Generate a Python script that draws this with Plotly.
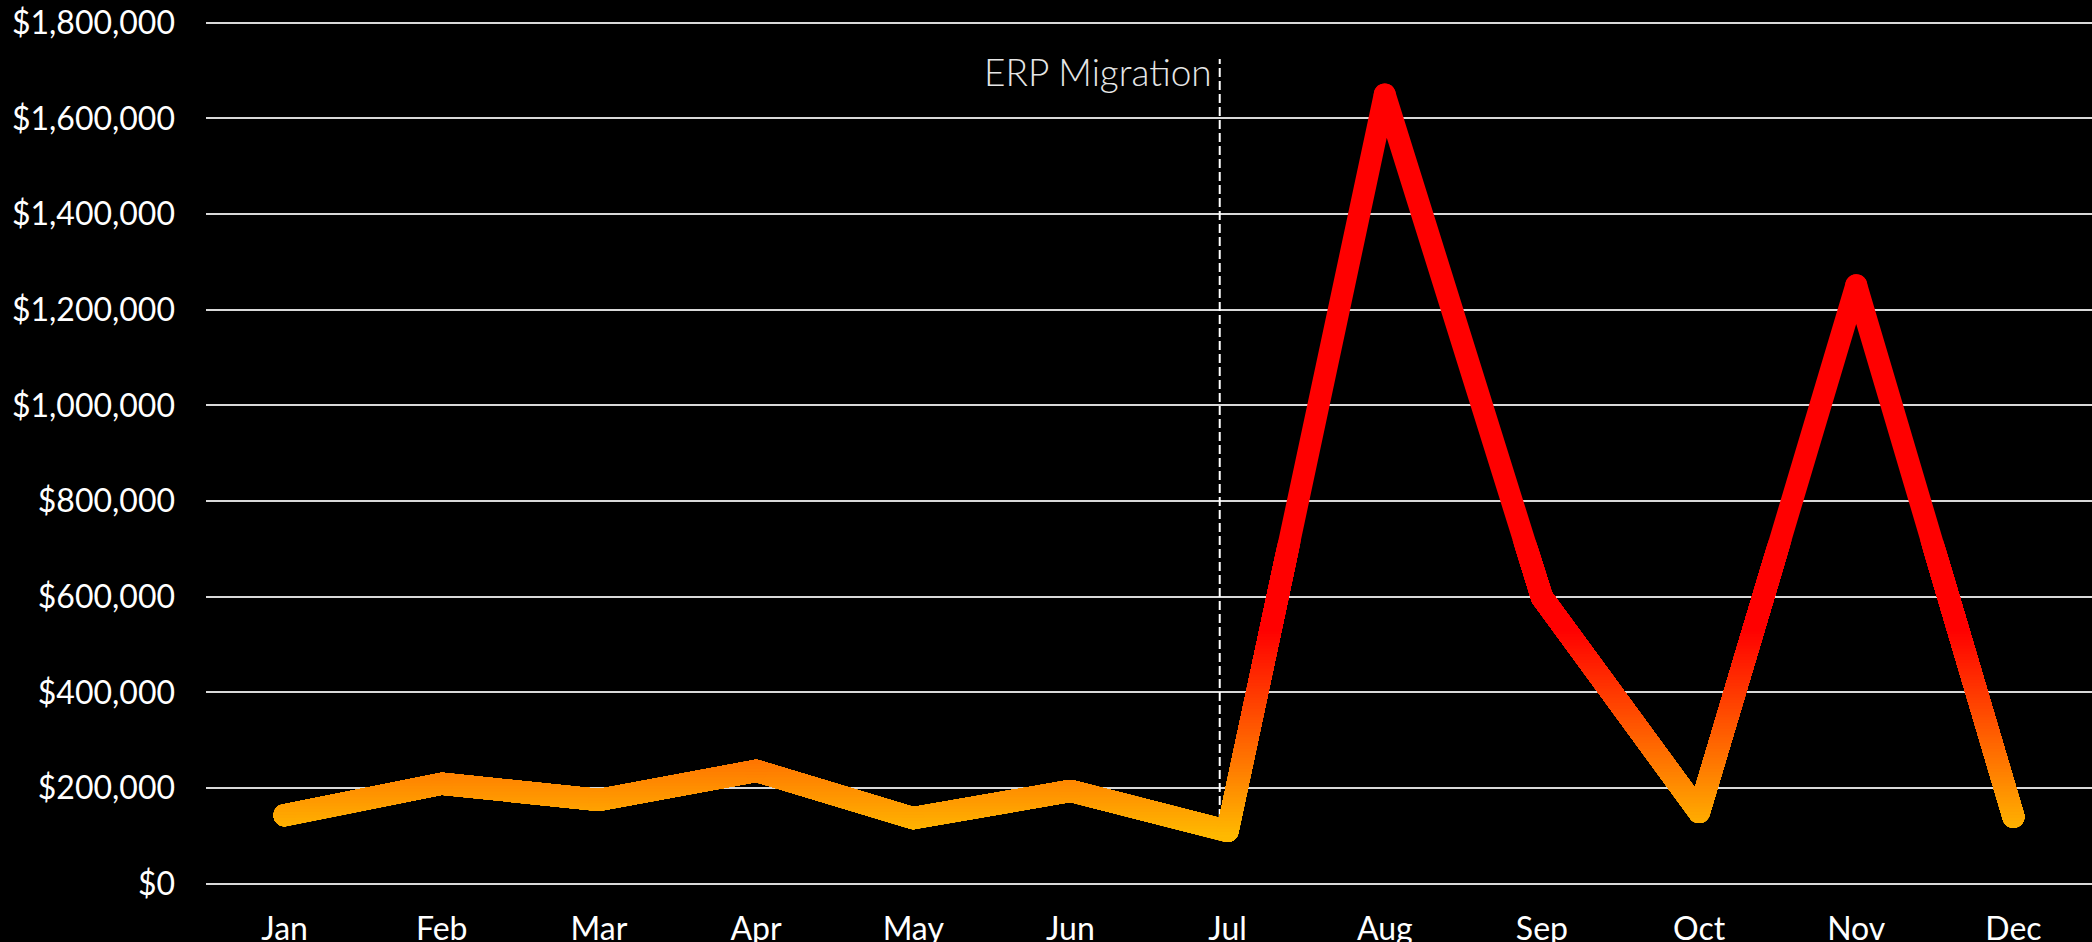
import plotly.graph_objects as go

months = ["Jan", "Feb", "Mar", "Apr", "May", "Jun", "Jul", "Aug", "Sep", "Oct", "Nov", "Dec"]
values = [143000, 209000, 175000, 236000, 137000, 194000, 110000, 1650000, 599000, 150000, 1251000, 140000]

event_label = "ERP Migration"
event_x = 5.95          # just left of Jul (category index)
event_top = 1724000
event_label_y = 1697000

Y_LO, Y_HI = -6900, 1805650
LINE_W = 22

# vertical gradient: amber at low values to pure red above ~530k
LOW_V, HIGH_V = 100000, 530000
LOW_RGB, HIGH_RGB = (255, 185, 0), (255, 0, 0)


def grad_color(v):
    t = (v - LOW_V) / (HIGH_V - LOW_V)
    t = max(0.0, min(1.0, t))
    r = round(LOW_RGB[0] + (HIGH_RGB[0] - LOW_RGB[0]) * t)
    g = round(LOW_RGB[1] + (HIGH_RGB[1] - LOW_RGB[1]) * t)
    b = round(LOW_RGB[2] + (HIGH_RGB[2] - LOW_RGB[2]) * t)
    return f"rgb({r},{g},{b})"


def dom(v):
    return (v - Y_LO) / (Y_HI - Y_LO)


fig = go.Figure()

# base trace (red) on the main axes
fig.add_trace(go.Scatter(
    x=months, y=values, mode="lines+markers",
    line=dict(color="rgb(255,0,0)", width=LINE_W, simplify=False),
    marker=dict(size=LINE_W, color="rgb(255,0,0)", line=dict(width=0)),
    hoverinfo="skip", showlegend=False, xaxis="x", yaxis="y",
))

# stacked tall strips; each later strip covers the upper part of the previous,
# so every strip is only visible in a thin band -> vertical colour gradient
STEP = 6000
H = 160000
layout_axes = {}
k = 2
a = 60000
while a < 560000:
    b = a + H
    col = grad_color(a + STEP / 2)
    name = f"y{k}"
    fig.add_trace(go.Scatter(
        x=months, y=values, mode="lines+markers",
        line=dict(color=col, width=LINE_W, simplify=False),
        marker=dict(size=LINE_W, color=col, line=dict(width=0)),
        hoverinfo="skip", showlegend=False, xaxis="x", yaxis=name,
    ))
    layout_axes[f"yaxis{k}"] = dict(
        domain=[dom(a), dom(b)], range=[a, b], anchor="x",
        visible=False, showgrid=False, zeroline=False, fixedrange=True,
    )
    a += STEP
    k += 1

fig.update_layout(**layout_axes)

fig.update_layout(
    width=2092, height=942,
    paper_bgcolor="black", plot_bgcolor="rgba(0,0,0,0)",
    margin=dict(l=206, r=0, t=20, b=55),
    font=dict(family="Lato", color="white", size=32),
    xaxis=dict(
        type="category", range=[-0.5, 11.5], showgrid=False, zeroline=False,
        showline=False, ticks="", ticklabelstandoff=20, automargin=False,
        tickfont=dict(family="Lato", size=32, color="white"),
    ),
    yaxis=dict(
        range=[Y_LO, Y_HI], dtick=200000, tick0=0, tickprefix="$", tickformat=",d",
        showgrid=True, gridcolor="#d9d9d9", gridwidth=2, zeroline=False,
        showline=False, ticks="", ticklabelstandoff=30, automargin=False,
        tickfont=dict(family="Lato", size=32, color="white"),
    ),
    shapes=[dict(
        type="line", xref="x", yref="y", x0=event_x, x1=event_x,
        y0=values[months.index("Jul")], y1=event_top,
        line=dict(color="white", width=2, dash="9px,4px"), layer="between",
    )],
    annotations=[dict(
        text=event_label, xref="x", yref="y", x=event_x, y=event_label_y,
        xanchor="right", yanchor="middle", xshift=-6, showarrow=False,
        font=dict(family="Lato", weight=300, size=37, color="#e6e6e6"),
    )],
)

post = """
document.body.style.margin = '0';
var gd = document.getElementById('{plot_id}');
function roundJoins() {
  gd.querySelectorAll('path.js-line').forEach(function (p) {
    p.style.strokeLinejoin = 'round';
    p.style.strokeLinecap = 'round';
  });
}
roundJoins();
if (gd.on) { gd.on('plotly_afterplot', roundJoins); }
"""

fig.write_html("out.html", post_script=post, config={"displayModeBar": False})
